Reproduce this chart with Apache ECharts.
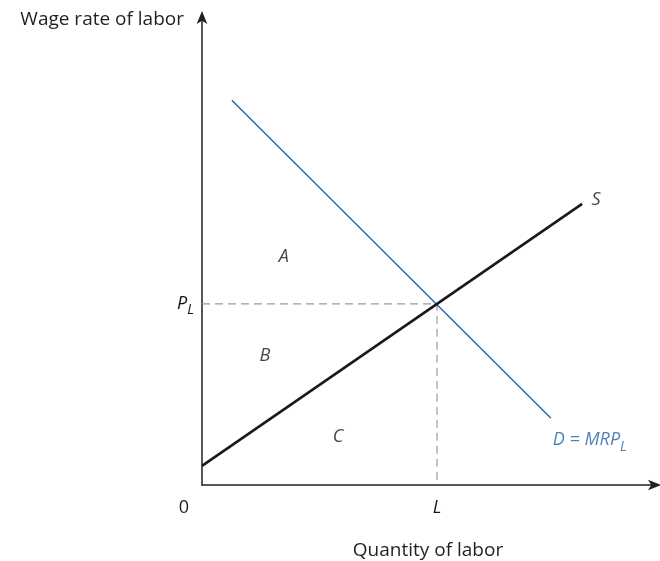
<!DOCTYPE html>
<html>
<head>
<meta charset="utf-8">
<script src="https://cdn.jsdelivr.net/npm/echarts@6/dist/echarts.min.js"></script>
<style>
html, body { margin: 0; padding: 0; background: #fff; }
#main { width: 660px; height: 561px; }
</style>
</head>
<body>
<div id="main"></div>
<script>
// curves (x = quantity of labor, y = wage rate)
var demandX = [6.6, 77.2];
var demandY = [82.4, 14.3];
var supplyX = [0, 84.1];
var supplyY = [4.1, 60.2];
// equilibrium
var eqL = 52;
var eqP = 38.8;
// area labels
var areaNames = ['A', 'B', 'C'];
var areaX = [18.1, 13.9, 30.1];
var areaY = [48.8, 27.6, 10.3];

var font = 'Open Sans';
var ink = '#231f20';
var inkIt = '#151515';
var blue = '#2262a3';
var fs = 19;   // axis names
var fi = 18;   // italic symbols

var myChart = echarts.init(document.getElementById('main'));

function pairs(xs, ys) {
	var out = [];
	for (var i = 0; i < xs.length; i++) out.push([xs[i], ys[i]]);
	return out;
}

var areaData = [];
for (var i = 0; i < areaNames.length; i++) {
	areaData.push({ name: areaNames[i], value: [areaX[i], areaY[i]] });
}

var subRich = {
	it: { fontFamily: font, fontSize: fi, fontStyle: 'italic', color: inkIt },
	sub: { fontFamily: font, fontSize: 14, fontStyle: 'italic', color: inkIt, padding: [13, 0, 0, 0] },
	zero: { fontFamily: font, fontSize: fi, color: ink, padding: [0, 36, 0, 0] }
};

var axisArrow = {
	symbol: ['none', 'arrow'],
	symbolSize: [8, 13],
	symbolOffset: [0, 7],
	lineStyle: { color: ink, width: 1.5 }
};

option = {
	animation: false,
	grid: { left: 202, right: 6, top: 18, bottom: 76, outerBoundsMode: 'none' },
	xAxis: {
		type: 'value',
		min: 0,
		max: 100,
		name: 'Quantity of labor',
		nameLocation: 'middle',
		nameGap: 56,
		nameTextStyle: { fontFamily: font, fontSize: fs, color: ink },
		axisLine: axisArrow,
		axisTick: { show: false },
		splitLine: { show: false },
		axisLabel: {
			customValues: [0, eqL],
			margin: 14,
			formatter: function (v) {
				return v === 0 ? '{zero|0}' : '{it|L}';
			},
			rich: subRich
		}
	},
	yAxis: {
		type: 'value',
		min: 0,
		max: 100,
		name: 'Wage rate of labor',
		nameLocation: 'end',
		nameGap: -2,
		nameTextStyle: {
			fontFamily: font, fontSize: fs, color: ink,
			align: 'right', verticalAlign: 'middle', padding: [0, 18, 0, 0]
		},
		axisLine: axisArrow,
		axisTick: { show: false },
		splitLine: { show: false },
		axisLabel: {
			customValues: [eqP],
			margin: 8,
			formatter: function () { return '{it|P}{sub|L}'; },
			rich: subRich
		}
	},
	series: [{
		type: 'line',
		data: [[0, eqP], [eqL, eqP], [eqL, 0]],
		symbol: 'none',
		lineStyle: { color: '#9a9a9a', width: 1.2, type: [8, 5] },
		z: 1
	}, {
		type: 'line',
		data: pairs(demandX, demandY),
		symbol: 'none',
		lineStyle: { color: blue, width: 1.3 }
	}, {
		type: 'line',
		data: pairs(supplyX, supplyY),
		symbol: 'none',
		lineStyle: { color: '#1a1a1a', width: 2.6 }
	}, {
		type: 'scatter',
		symbolSize: 0,
		data: areaData,
		label: {
			show: true,
			position: 'inside',
			formatter: '{b}',
			fontFamily: font,
			fontSize: fi,
			fontStyle: 'italic',
			color: inkIt
		}
	}, {
		type: 'scatter',
		symbolSize: 0,
		data: [
			{ name: 'S', value: [87.2, 61.0], label: { formatter: '{it|S}' } },
			{ name: 'D', value: [85.8, 9.6], label: { formatter: '{b|D = MRP}{bs|L}' } }
		],
		label: {
			show: true,
			position: 'inside',
			rich: {
				it: { fontFamily: font, fontSize: fi, fontStyle: 'italic', color: inkIt },
				b: { fontFamily: font, fontSize: fi, fontStyle: 'italic', color: blue },
				bs: { fontFamily: font, fontSize: 14, fontStyle: 'italic', color: blue, padding: [13, 0, 0, 0] }
			}
		}
	}]
};

myChart.setOption(option);
</script>
</body>
</html>
